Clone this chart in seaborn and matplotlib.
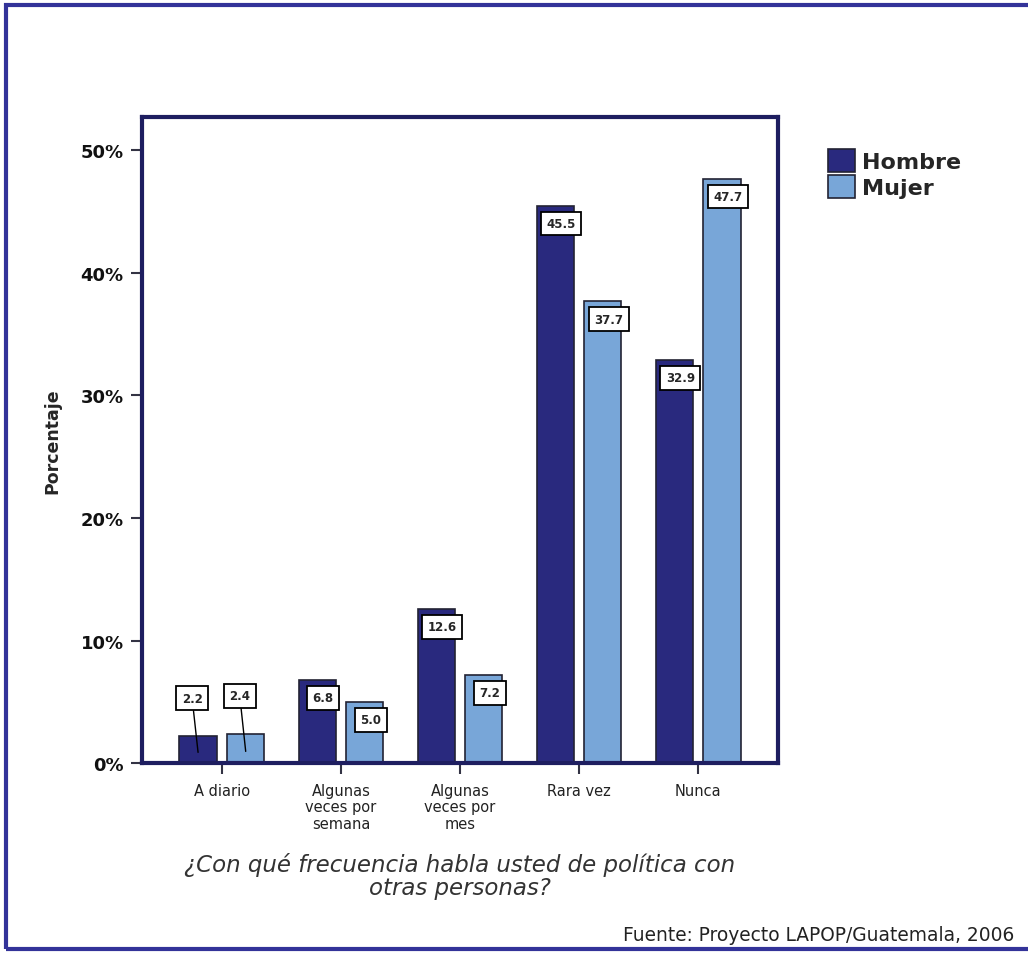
import numpy as np
import pandas as pd
import matplotlib
matplotlib.use("Agg")
import matplotlib.pyplot as plt
import seaborn as sns
from matplotlib.patches import Rectangle

# ==================== DATA ====================
categories = ["A diario", "Algunas\nveces por\nsemana", "Algunas\nveces por\nmes", "Rara vez", "Nunca"]
sexes      = ["Hombre", "Mujer"]
hombre     = [2.2, 6.8, 12.6, 45.5, 32.9]
mujer      = [2.4, 5.0, 7.2, 37.7, 47.7]
yticks     = [0, 10, 20, 30, 40, 50]

df = pd.DataFrame({
    "cat": categories * 2,
    "sexo": [sexes[0]] * len(hombre) + [sexes[1]] * len(mujer),
    "pct": hombre + mujer,
})

# ==================== STYLE ====================
sns.set_style("white")
plt.rcParams['font.family'] = ['DejaVu Sans']
NAVY  = "#29297e"
LIGHT = "#78a6d8"
FRAME = "#1e1e60"

fig = plt.figure(figsize=(10.28, 9.54), dpi=100)
ax = fig.add_axes([0.138, 0.199, 0.619, 0.677])

sns.barplot(data=df, x="cat", y="pct", hue="sexo", order=categories, hue_order=sexes,
            palette=[NAVY, LIGHT], width=0.8, gap=0.22, edgecolor="#222233",
            linewidth=1.2, saturation=1, ax=ax, legend=True)

ax.set_xlim(-0.672, 4.672)
ax.set_ylim(0, 52.7)
ax.set_yticks(yticks)
ax.set_yticklabels([f"{t}%" for t in yticks], fontsize=13, fontweight="bold", color="#111111")
ax.set_xticks(range(len(categories)))
ax.set_xticklabels(categories, fontsize=10.5, linespacing=1.15, color="#222222")
ax.tick_params(axis="both", left=True, bottom=True, direction="out", length=8, width=1.5,
               color="#333344", pad=5)
ax.tick_params(axis="x", pad=6)
ax.set_ylabel("Porcentaje", fontsize=12.5, fontweight="bold", labelpad=14)
ax.set_xlabel("¿Con qué frecuencia habla usted de política con\notras personas?",
              fontsize=16.5, fontstyle="italic", color="#333333", labelpad=15, linespacing=1.0)
for s in ax.spines.values():
    s.set_visible(True)
    s.set_color(FRAME)
    s.set_linewidth(3)

# value labels in little white boxes
box = dict(boxstyle="square,pad=0.45", fc="white", ec="black", lw=1.3)
for cont in ax.containers:
    for bar in cont:
        v = bar.get_height()
        xc = bar.get_x() + bar.get_width() / 2
        if v < 4:
            ax.annotate(f"{v:.1f}", xy=(xc, v * 0.4), xytext=(xc - 0.05, v + 3.1),
                        ha="center", va="center", fontsize=8.5, fontweight="bold", bbox=box,
                        arrowprops=dict(arrowstyle="-", color="black", lw=1.0, shrinkA=0, shrinkB=0))
        else:
            ax.annotate(f"{v:.1f}", xy=(xc, v), xytext=(6, -18), textcoords="offset pixels",
                        ha="center", va="center", fontsize=8.5, fontweight="bold", bbox=box)

# legend outside at the right
leg = ax.legend(loc="upper left", bbox_to_anchor=(1.065, 0.965), frameon=False,
                prop=dict(size=16, weight="bold"), handlelength=1.2, handleheight=1.2,
                handletextpad=0.3, labelspacing=0.15, borderaxespad=0)
for h in leg.legend_handles:
    h.set_edgecolor("#222233")
    h.set_linewidth(1.2)

# outer blue frame and source note
fig.patches.append(Rectangle((0.006, 0.004), 1.2, 0.99, transform=fig.transFigure,
                             fill=False, ec="#333399", lw=3, zorder=10))
fig.text(0.606, 0.009, "Fuente: Proyecto LAPOP/Guatemala, 2006", fontsize=13.4, color="#222222",
         ha="left", va="bottom")

plt.savefig("out.png", dpi=100)
